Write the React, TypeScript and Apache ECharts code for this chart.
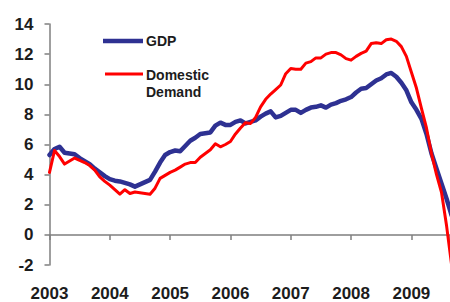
import React, { useEffect, useRef } from "react";
import * as echarts from "echarts";

// Monthly year-on-year growth (%) starting January 2003
const START_YEAR = 2003;
const yearLabels = ["2003", "2004", "2005", "2006", "2007", "2008", "2009"];
const yTicks = [-2, 0, 2, 4, 6, 8, 10, 12, 14];

const gdp = [
  5.3, 5.7, 5.85, 5.45, 5.4, 5.35, 5.1, 4.9, 4.7, 4.4, 4.15, 3.9,
  3.7, 3.6, 3.55, 3.45, 3.35, 3.2, 3.35, 3.5, 3.65, 4.2, 4.8, 5.3,
  5.5, 5.6, 5.55, 5.9, 6.25, 6.45, 6.7, 6.75, 6.8, 7.25, 7.45, 7.3,
  7.3, 7.5, 7.6, 7.4, 7.5, 7.6, 7.85, 8.05, 8.2, 7.8, 7.9, 8.1,
  8.3, 8.3, 8.1, 8.3, 8.45, 8.5, 8.6, 8.45, 8.65, 8.75, 8.9, 9.0,
  9.15, 9.45, 9.7, 9.75, 10.0, 10.25, 10.4, 10.65, 10.75, 10.5, 10.1, 9.6,
  8.8, 8.3, 7.7, 6.7, 5.4, 4.4, 3.4, 2.4, 1.3,
];

const domesticDemand = [
  4.15, 5.6, 5.2, 4.7, 4.9, 5.1, 4.95, 4.8, 4.6, 4.3, 3.85, 3.55,
  3.3, 3.0, 2.7, 3.0, 2.75, 2.85, 2.8, 2.75, 2.7, 3.1, 3.75, 3.95,
  4.15, 4.3, 4.5, 4.7, 4.8, 4.8, 5.15, 5.4, 5.65, 6.05, 5.85, 6.0,
  6.2, 6.7, 7.1, 7.45, 7.4, 7.8, 8.5, 9.0, 9.35, 9.65, 9.95, 10.7,
  11.05, 11.0, 11.0, 11.4, 11.5, 11.75, 11.75, 12.0, 12.1, 12.1, 11.95, 11.7,
  11.6, 11.85, 12.05, 12.2, 12.7, 12.75, 12.7, 12.95, 13.0, 12.85, 12.5, 11.85,
  10.8, 9.75, 8.4, 7.1, 5.4, 4.0, 2.8, 0.6, -2.0,
];

const toSeries = (vals: number[]) => vals.map((v, i) => [START_YEAR + i / 12, v]);

const FONT = "'Liberation Sans', Arial, sans-serif";
const AXIS_GRAY = "#7f7f7f";
const TEXT = "#1c1c1c";
const BLUE = "#2E3192";
const RED = "#FF0000";

export default function App() {
  const ref = useRef<HTMLDivElement>(null);
  useEffect(() => {
    if (!ref.current) return;
    const chart = echarts.init(ref.current, null, { renderer: "svg" });
    const xMin = START_YEAR;
    const xMax = 2009.64;
    chart.setOption({
      animation: false,
      backgroundColor: "#ffffff",
      grid: { left: 49.5, right: 0, top: 24, bottom: 37, containLabel: false },
      xAxis: [
        {
          type: "value",
          min: xMin,
          max: xMax,
          interval: 1,
          position: "bottom",
          axisLine: { show: true, onZero: true, lineStyle: { color: AXIS_GRAY, width: 1.5 } },
          axisTick: { show: true, inside: false, length: 5, lineStyle: { color: AXIS_GRAY, width: 1.5 } },
          axisLabel: { show: false },
          splitLine: { show: false },
        },
        {
          type: "value",
          min: xMin,
          max: xMax,
          interval: 1,
          position: "bottom",
          axisLine: { show: false, onZero: false },
          axisTick: { show: false },
          splitLine: { show: false },
          axisLabel: {
            show: true,
            margin: 20,
            fontFamily: FONT,
            fontSize: 17,
            fontWeight: "bold",
            color: TEXT,
            showMaxLabel: false,
            formatter: (v: number) => {
              const idx = Math.round(v - START_YEAR);
              return yearLabels[idx] ?? "";
            },
          },
        },
      ],
      yAxis: {
        type: "value",
        min: yTicks[0],
        max: yTicks[yTicks.length - 1],
        interval: 2,
        axisLine: { show: true, onZero: false, lineStyle: { color: AXIS_GRAY, width: 1.5 } },
        axisTick: { show: true, inside: false, length: 5, lineStyle: { color: AXIS_GRAY, width: 1.5 } },
        splitLine: { show: false },
        axisLabel: {
          margin: 16,
          fontFamily: FONT,
          fontSize: 17,
          fontWeight: "bold",
          color: TEXT,
        },
      },
      series: [
        {
          name: "GDP",
          type: "line",
          xAxisIndex: 0,
          data: toSeries(gdp),
          showSymbol: false,
          symbol: "none",
          lineStyle: { color: BLUE, width: 4.5, join: "round", cap: "round" },
          itemStyle: { color: BLUE },
          z: 2,
        },
        {
          name: "Domestic Demand",
          type: "line",
          xAxisIndex: 0,
          data: toSeries(domesticDemand),
          showSymbol: false,
          symbol: "none",
          lineStyle: { color: RED, width: 3, join: "round", cap: "round" },
          itemStyle: { color: RED },
          z: 3,
        },
      ],
      graphic: [
        {
          type: "line",
          shape: { x1: 103, y1: 41, x2: 143, y2: 41 },
          style: { stroke: BLUE, lineWidth: 4.5 },
        },
        {
          type: "text",
          x: 146,
          y: 41,
          style: {
            text: "GDP",
            font: `bold 14px ${FONT}`,
            fill: TEXT,
            verticalAlign: "middle",
            align: "left",
          },
        },
        {
          type: "line",
          shape: { x1: 105, y1: 74, x2: 143, y2: 74 },
          style: { stroke: RED, lineWidth: 3 },
        },
        {
          type: "text",
          x: 146,
          y: 66,
          style: {
            text: "Domestic\nDemand",
            font: `bold 14px ${FONT}`,
            fill: TEXT,
            lineHeight: 17,
            verticalAlign: "top",
            align: "left",
          },
        },
      ],
    });
    return () => chart.dispose();
  }, []);
  return <div ref={ref} style={{ width: 450, height: 302, position: "fixed", left: 0, top: 0 }} />;
}
